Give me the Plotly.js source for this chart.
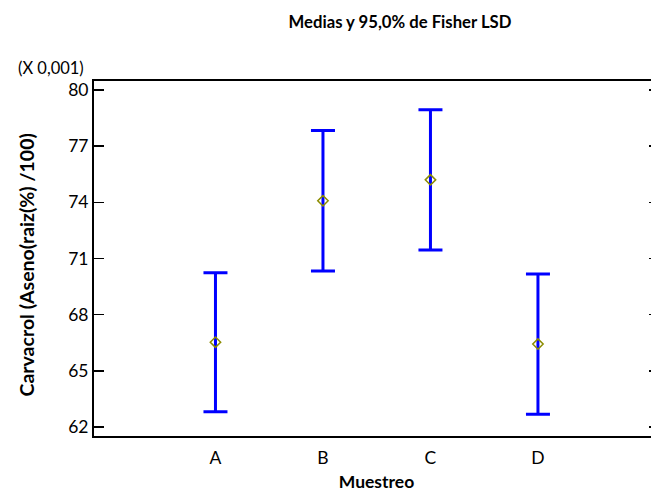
<!DOCTYPE html>
<html>
<head>
<meta charset="utf-8">
<script src="https://cdn.plot.ly/plotly-3.0.1.min.js"></script>
<style>
html,body{margin:0;padding:0;overflow:hidden;background:#fff;}
#chart{width:659px;height:492px;}
</style>
</head>
<body>
<div id="chart"></div>
<script>
// Values shown in units of 0.001 (axis label "(X 0,001)")
const categories = ["A", "B", "C", "D"];
const means = [66.53, 74.08, 75.20, 66.43];
const lower = [62.82, 70.33, 71.45, 62.68];
const upper = [70.24, 77.83, 78.95, 70.17];
const yTicks = [62, 65, 68, 71, 74, 77, 80];

const xIdx = categories.map((c, i) => i);
const plus = upper.map((u, i) => u - means[i]);
const minus = lower.map((l, i) => means[i] - l);

const fontFam = "Lato, 'Open Sans', sans-serif";

const trace = {
  type: "scatter",
  mode: "markers",
  x: xIdx,
  y: means,
  marker: {symbol: "diamond-open", size: 8, color: "#8c8c00", line: {width: 1.5, color: "#8c8c00"}},
  error_y: {type: "data", symmetric: false, array: plus, arrayminus: minus,
            color: "#0000ff", thickness: 3, width: 12},
  hoverinfo: "skip",
  showlegend: false
};

const layout = {
  width: 659, height: 492,
  margin: {l: 94, r: 0, t: 81, b: 56},
  paper_bgcolor: "#fff", plot_bgcolor: "#fff",
  font: {family: fontFam, size: 17, color: "#000"},
  title: {text: "<b>Medias y 95,0% de Fisher LSD</b>", x: 400/659, xanchor: "center", xref: "container",
          y: 1 - 22/492, yanchor: "middle", yref: "container", font: {family: fontFam, size: 16.7, color: "#000"}},
  xaxis: {
    range: [-1.13, 4.126],
    tickmode: "array", tickvals: xIdx, ticktext: categories,
    showline: true, linecolor: "#000", linewidth: 2, mirror: true,
    ticks: "", showgrid: false, zeroline: false, ticklabelstandoff: 5,
    tickfont: {family: fontFam, size: 17.5, color: "#000"},
    title: {text: "<b>Muestreo</b>", standoff: 9, font: {family: fontFam, size: 17.5, color: "#000"}}
  },
  yaxis: {
    range: [61.52, 80.48],
    tickmode: "array", tickvals: yTicks, ticktext: yTicks.map(String),
    showline: true, linecolor: "#000", linewidth: 2, mirror: "ticks",
    ticks: "inside", ticklen: 10, tickwidth: 1.5, tickcolor: "#000",
    showgrid: false, zeroline: false,
    tickfont: {family: fontFam, size: 17.5, color: "#000"}
  },
  annotations: [{
    text: "(X 0,001)", xref: "paper", yref: "paper", x: 0, y: 1, xanchor: "right", yanchor: "middle",
    xshift: -8, yshift: 13, showarrow: false, font: {family: fontFam, size: 16.5, color: "#000"}
  }, {
    text: "<b>Carvacrol (Aseno(raiz(%) /100)</b>", textangle: -90,
    xref: "paper", yref: "paper", x: 0, y: 0.5, xanchor: "center", yanchor: "middle",
    xshift: -68, yshift: -7, showarrow: false, font: {family: fontFam, size: 19.5, color: "#000"}
  }]
};

Plotly.newPlot("chart", [trace], layout, {staticPlot: true, displayModeBar: false});
</script>
</body>
</html>
